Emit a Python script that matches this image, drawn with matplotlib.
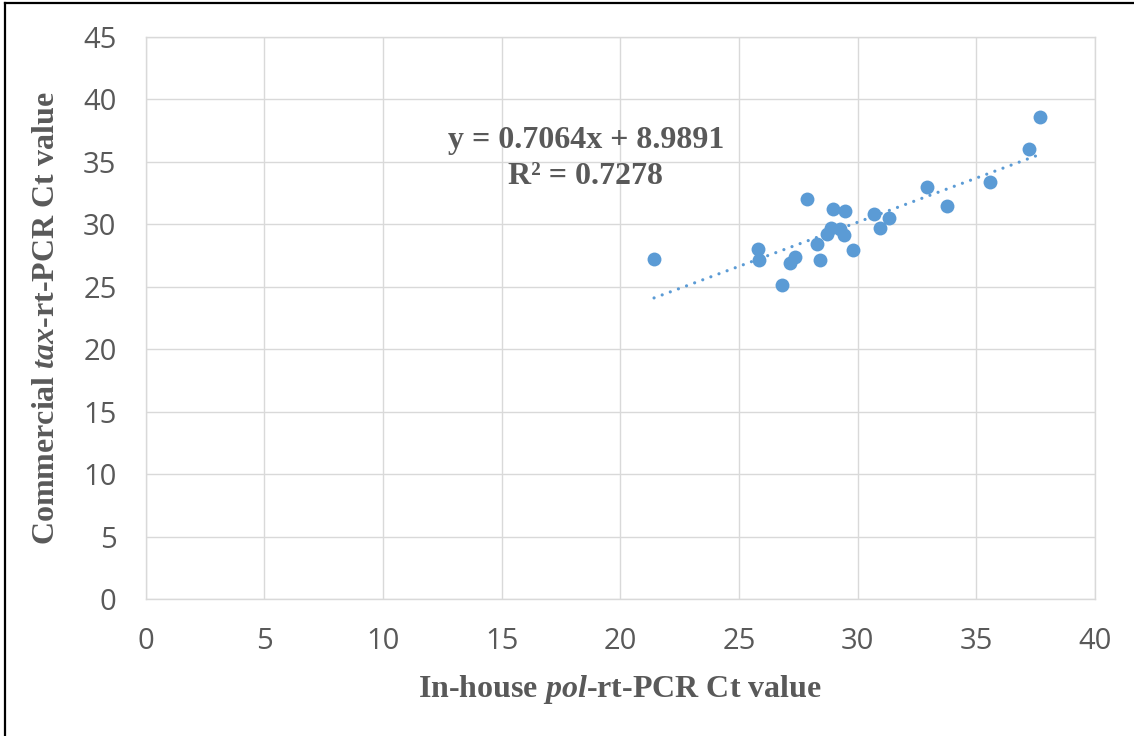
import matplotlib
matplotlib.use("Agg")
import matplotlib.pyplot as plt
from matplotlib.lines import Line2D
import numpy as np

# in-house pol-rt-PCR Ct vs commercial tax-rt-PCR Ct
inhouse_ct = [21.42, 25.82, 25.86, 26.80, 27.15, 27.35, 27.88, 28.28, 28.42,
              28.72, 28.88, 28.94, 29.26, 29.43, 29.48, 29.82, 30.69, 30.94,
              31.31, 32.91, 33.78, 35.58, 37.22, 37.69]
commercial_ct = [27.20, 28.02, 27.14, 25.17, 26.88, 27.41, 32.00, 28.42, 27.14,
                 29.25, 29.68, 31.20, 29.60, 29.12, 31.06, 27.94, 30.82, 29.73,
                 30.48, 32.96, 31.46, 33.41, 36.02, 38.60]
slope = 0.7064
intercept = 8.9891
r_squared = 0.7278

x_ticks = [0, 5, 10, 15, 20, 25, 30, 35, 40]
y_ticks = [0, 5, 10, 15, 20, 25, 30, 35, 40, 45]

blue = '#5B9BD5'
grey_text = '#595959'

plt.rcParams['mathtext.fontset'] = 'custom'
plt.rcParams['mathtext.rm'] = 'Liberation Serif:bold'
plt.rcParams['mathtext.it'] = 'Liberation Serif:italic:bold'

fig = plt.figure(figsize=(11.34, 7.36), dpi=100)
ax = fig.add_axes([0.1285, 0.1857, 0.8371, 0.7640])

ax.grid(True, color='#D9D9D9', linewidth=1.0)
ax.set_axisbelow(True)
for side in ax.spines.values():
    side.set_color('#D9D9D9')
    side.set_linewidth(1.0)

ax.scatter(inhouse_ct, commercial_ct, s=100, color=blue, zorder=3, linewidths=0)

# linear trendline
fit_x = np.array([min(inhouse_ct), max(inhouse_ct)])
fit_y = slope * fit_x + intercept
ax.plot(fit_x, fit_y, color=blue, linewidth=2.3, dashes=(0.01, 2.7),
        dash_capstyle='round', zorder=2)

ax.text(18.55, 36.7, f'y = {slope}x + {intercept}', ha='center', va='center',
        fontsize=23, fontweight='bold', family='Liberation Serif', color=grey_text)
ax.text(18.55, 33.8, f'R² = {r_squared}', ha='center', va='center',
        fontsize=23, fontweight='bold', family='Liberation Serif', color=grey_text)

ax.set_xlim(0, 40)
ax.set_ylim(0, 45)
ax.set_xticks(x_ticks)
ax.set_yticks(y_ticks)
ax.tick_params(length=0, labelsize=21, labelcolor=grey_text)
ax.tick_params(axis='x', pad=20)
ax.tick_params(axis='y', pad=21)
for lbl in ax.get_xticklabels() + ax.get_yticklabels():
    lbl.set_family('Open Sans')

ax.set_xlabel(r'In-house $\mathit{pol}$-rt-PCR Ct value', fontsize=23,
              fontweight='bold', family='Liberation Serif', color=grey_text,
              va='center')
ax.xaxis.set_label_coords(0.5, -0.16)
ax.set_ylabel(r'Commercial $\mathit{tax}$-rt-PCR Ct value', fontsize=23,
              fontweight='bold', family='Liberation Serif', color=grey_text,
              va='center', ha='center')
ax.yaxis.set_label_coords(-0.104, 0.5)

# frame around the figure (only top and left edges visible)
fig.add_artist(Line2D([0.0044, 1.0], [0.996, 0.996], color='black', linewidth=1.6,
                      transform=fig.transFigure))
fig.add_artist(Line2D([0.0044, 0.0044], [0.0, 0.996], color='black', linewidth=1.6,
                      transform=fig.transFigure))

fig.savefig('out.png', dpi=100)
